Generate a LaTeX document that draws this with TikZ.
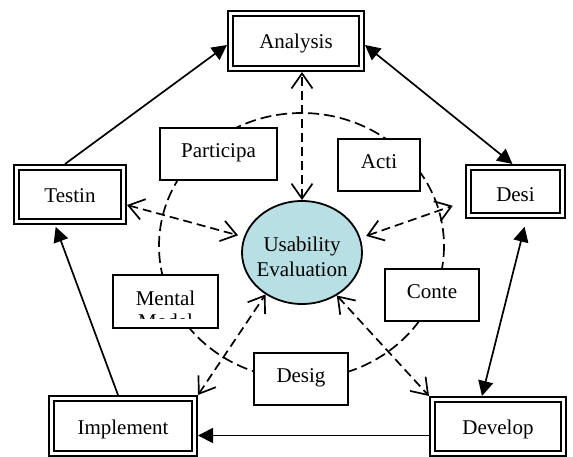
\documentclass[tikz,border=0pt]{standalone}
\usepackage{fontspec}
\setmainfont{Liberation Serif}
\usetikzlibrary{arrows.meta,shapes.geometric}
\definecolor{evalfill}{RGB}{184,223,228}
\tikzset{
  boxfont/.style={font=\fontsize{21}{25}\selectfont},
  stagebox/.style={boxfont, draw, line width=2.4pt, double, double distance=2.4pt,
    fill=white, inner sep=0pt, outer sep=3.6pt, text height=18pt, text depth=2pt},
  topicbox/.style={boxfont, draw, line width=1.8pt, fill=white, inner sep=0pt,
    text height=14pt, text depth=7pt},
  evalnode/.style={draw, ellipse, line width=1.8pt, fill=evalfill, inner sep=0pt,
    minimum width=120pt, minimum height=103pt},
  flow/.style={line width=1.7pt, -{Triangle[length=15pt,width=15pt]}},
  flowboth/.style={line width=1.7pt, {Triangle[length=15pt,width=15pt]}-{Triangle[length=15pt,width=15pt]}},
  link/.style={line width=1.7pt, dash pattern=on 9pt off 5pt,
    {Straight Barb[length=15pt,width=21pt]}-{Straight Barb[length=15pt,width=21pt]}},
  ring/.style={line width=1.7pt, dash pattern=on 11pt off 5pt}
}
\begin{document}
\begin{tikzpicture}[x=1pt,y=-1pt]
  \fill[white] (0,0) rectangle (573,457);
  \useasboundingbox (0,0) rectangle (573,457);

  % dashed ring linking the evaluation topics
  \draw[ring] (301.5,246) ellipse [x radius=142.5, y radius=133];

  % central node
  \node[evalnode] (ue) at (302,252.5) {};
  \node[boxfont, align=center, inner sep=0pt] (uetext) at (302,257) {Usability\\Evaluation};

  % life-cycle stages
  \node[stagebox, minimum width=130.8pt, minimum height=54.8pt] (analysis) at (296,41) {Analysis};
  \node[stagebox, minimum width=106.8pt, minimum height=53.8pt] (testin) at (70,194.5) {Testin};
  \node[stagebox, minimum width=93.8pt, minimum height=47.8pt, text height=23pt] (desi) at (515.5,191.5) {Desi};
  \node[stagebox, minimum width=142.8pt, minimum height=54.8pt] (implement) at (123,426) {Implement};
  \node[stagebox, minimum width=130.8pt, minimum height=53.8pt] (develop) at (498,426.5) {Develop};

  % evaluation topics
  \node[topicbox, minimum width=117.5pt, minimum height=52.5pt] (particip) at (218.5,154) {Participa};
  \node[topicbox, minimum width=82.5pt, minimum height=52.5pt] (acti) at (379,165) {Acti};
  \node[topicbox, minimum width=105.5pt, minimum height=53.5pt] (mental) at (165.5,301.5) {Mental};
  \node[topicbox, minimum width=94.5pt, minimum height=52.5pt] (conte) at (432,295) {Conte};
  \node[topicbox, minimum width=94.5pt, minimum height=52.5pt] (desig) at (301,379) {Desig};

  % second line of the Mental box, cut off by its frame
  \begin{scope}
    \clip (mental.north west) rectangle ([yshift=11pt]mental.south east);
    \node[boxfont, anchor=base, inner sep=0pt] (mentalmore) at ([yshift=-23pt]mental.base) {Model};
  \end{scope}

  % stage cycle
  \draw[flow] ([xshift=-5pt]testin.north) -- ([yshift=-4pt]analysis.west);
  \draw[flowboth] ([yshift=-4pt]analysis.east) -- ([xshift=-3pt]desi.north);
  \draw[flowboth, shorten <=8pt] ([xshift=11pt]desi.south) -- ([xshift=-16pt]develop.north);
  \draw[flow] ([yshift=-9pt]develop.west) -- ([yshift=-9pt]develop.west -| implement.east);
  \draw[flow, shorten >=2pt] ([xshift=-5pt]implement.north) -- ([xshift=-15pt]testin.south);

  % evaluation links
  \draw[link] (ue.north) -- (ue.north |- analysis.south);
  \draw[link, shorten >=6pt] ([yshift=-10.5pt]testin.east) -- (ue.165);
  \draw[link, shorten <=6pt, shorten >=13pt] (ue.14) -- ([yshift=-10pt]desi.west);
  \draw[link] (implement.north east) -- (ue.229);
  \draw[link] (ue.309) -- (develop.north west);
\end{tikzpicture}
\end{document}
